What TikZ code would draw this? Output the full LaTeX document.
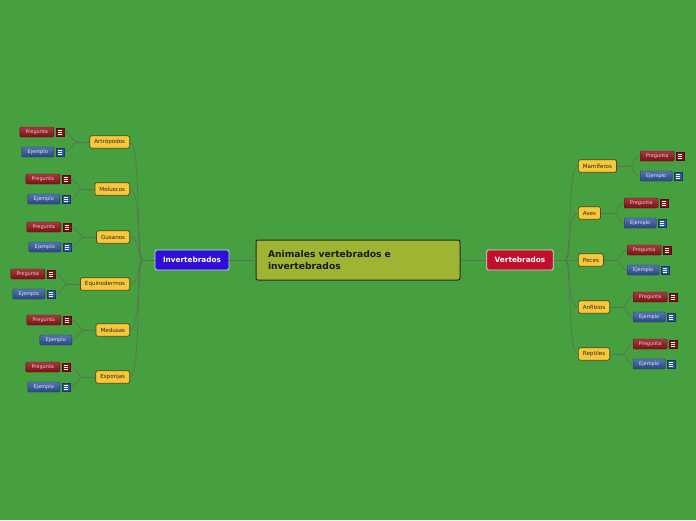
\documentclass[tikz,border=0pt]{standalone}
\usepackage{fontspec}
\setmainfont{DejaVu Sans}
\usetikzlibrary{positioning,calc}
\definecolor{mapgreen}{HTML}{47A040}
\definecolor{mapline}{HTML}{5E6E58}
\definecolor{topicfill}{HTML}{9DB532}
\definecolor{subfill}{HTML}{F8C73A}
\definecolor{subdraw}{HTML}{4D4A1E}
\definecolor{invfill}{HTML}{2E0FDA}
\definecolor{vertfill}{HTML}{C0102C}
\definecolor{pregtop}{HTML}{A33A42}
\definecolor{pregbot}{HTML}{7A1218}
\definecolor{pregtext}{HTML}{F2C4C4}
\definecolor{ejetop}{HTML}{5574B0}
\definecolor{ejebot}{HTML}{2A4680}
\definecolor{ejetext}{HTML}{E2EAF6}
\definecolor{iconred}{HTML}{8A1010}
\definecolor{iconblue}{HTML}{2A57A8}

\begin{document}
\begin{tikzpicture}[x=1pt, y=-1pt,
  topic/.style={draw=black!85, fill=topicfill, rounded corners=2pt, line width=1pt,
    text width=180pt, align=left, inner xsep=12pt, minimum height=40pt,
    font=\fontsize{9.2}{12}\selectfont\bfseries, text=black!90},
  mainbranch/.style={draw=white!85!black, rounded corners=1.5pt, line width=0.8pt,
    minimum height=20pt, inner xsep=8pt, text=white, font=\fontsize{7.3}{8}\selectfont\bfseries},
  subtopic/.style={draw=subdraw, fill=subfill, rounded corners=1.5pt, line width=0.7pt,
    minimum height=12.5pt, inner xsep=4.5pt, inner ysep=0pt, font=\fontsize{5.6}{6}\selectfont, text=black!85},
  pregunta/.style={top color=pregtop, bottom color=pregbot, draw=pregbot!80!black, rounded corners=1pt,
    minimum width=34pt, minimum height=10pt, inner sep=0pt, text=pregtext, font=\fontsize{5}{5}\selectfont},
  ejemplo/.style={top color=ejetop, bottom color=ejebot, draw=ejebot!80!black, rounded corners=1pt,
    minimum width=32pt, minimum height=10pt, inner sep=0pt, text=ejetext, font=\fontsize{5}{5}\selectfont},
  listicon/.style={minimum size=8pt, inner sep=0pt, fill=#1, draw=#1!60!black, line width=0.4pt,
    path picture={\foreach \k in {-2,0,2}
      \draw[white, line width=0.7pt] ([xshift=-2.2pt, yshift=\k pt]path picture bounding box.center) -- ++(4.4pt,0);}},
  link/.style={draw=mapline, line width=0.6pt}]

\useasboundingbox[fill=mapgreen] (0,0) rectangle (696,520);

% centre and the two main branches
\node[topic] (central) at (358,260) {Animales vertebrados e\\invertebrados};
\node[mainbranch, fill=invfill] (inv) at (192,260) {Invertebrados};
\node[mainbranch, fill=vertfill] (vert) at (520,260) {Vertebrados};
\draw[link] (central.west) -- (inv.east);
\draw[link] (central.east) -- (vert.west);
\coordinate (invhub) at (143,260);
\coordinate (verthub) at (565,260);
\draw[link] (inv.west) -- (invhub);
\draw[link] (vert.east) -- (verthub);

% invertebrados
\foreach \n/\lab/\y/\pr in {art/Artrópodos/142/54, mol/Moluscos/189/60, gus/Gusanos/237/61,
                           equ/Equinodermos/284/45, esp/Esponjas/377/60}{
  \node[subtopic, anchor=east] (\n) at (130,\y) {\lab};
  \draw[link] (invhub) .. controls +(-7,0) and +(11,0) .. (\n.east);
  \node[pregunta, anchor=east] (\n-p) at (\pr,\y-10) {Pregunta};
  \node[listicon=iconred] (\n-pi) at (\pr+6,\y-10) {};
  \node[ejemplo, anchor=east] (\n-e) at (\pr,\y+10) {Ejemplo};
  \node[listicon=iconblue] (\n-ei) at (\pr+6,\y+10) {};
  \coordinate (\n-j) at ($(\n.west)+(-12,0)$);
  \draw[link] (\n.west) -- (\n-j);
  \draw[link] (\n-j) .. controls +(-6,0) and +(7,0) .. (\n-pi.east);
  \draw[link] (\n-j) .. controls +(-6,0) and +(7,0) .. (\n-ei.east);
}
\node[subtopic, anchor=east] (med) at (130,330) {Medusas};
\draw[link] (invhub) .. controls +(-7,0) and +(11,0) .. (med.east);
\node[pregunta, anchor=east] (med-p) at (61,320) {Pregunta};
\node[listicon=iconred] (med-pi) at (67,320) {};
\node[ejemplo, anchor=east] (med-e) at (72,340) {Ejemplo};
\coordinate (med-j) at ($(med.west)+(-12,0)$);
\draw[link] (med.west) -- (med-j);
\draw[link] (med-j) .. controls +(-6,0) and +(7,0) .. (med-pi.east);
\draw[link] (med-j) .. controls +(-4,0) and +(4,0) .. (med-e.east);

% vertebrados
\foreach \n/\lab/\y/\pl in {mam/Mamíferos/166/640, ave/Aves/213/624, pec/Peces/260/627,
                           anf/Anfibios/307/633, rep/Reptiles/354/633}{
  \node[subtopic, anchor=west] (\n) at (578,\y) {\lab};
  \draw[link] (verthub) .. controls +(7,0) and +(-11,0) .. (\n.west);
  \node[pregunta, anchor=west] (\n-p) at (\pl,\y-10) {Pregunta};
  \node[listicon=iconred] (\n-pi) at (\pl+40,\y-10) {};
  \node[ejemplo, anchor=west] (\n-e) at (\pl,\y+10) {Ejemplo};
  \node[listicon=iconblue] (\n-ei) at (\pl+38,\y+10) {};
  \coordinate (\n-j) at ($(\n.east)+(12,0)$);
  \draw[link] (\n.east) -- (\n-j);
  \draw[link] (\n-j) .. controls +(6,0) and +(-7,0) .. (\n-p.west);
  \draw[link] (\n-j) .. controls +(6,0) and +(-7,0) .. (\n-e.west);
}
\end{tikzpicture}
\end{document}
